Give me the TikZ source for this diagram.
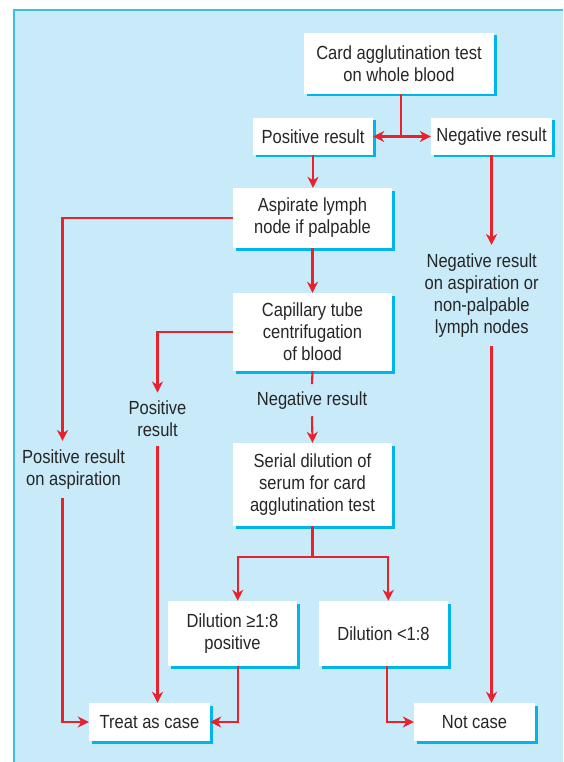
\documentclass[tikz,border=0pt]{standalone}
\usepackage{fontspec}
\setmainfont{Liberation Sans}[FakeStretch=0.87]
\usetikzlibrary{arrows.meta,shadows}
\definecolor{panel}{HTML}{C8EAF9}
\definecolor{frame}{HTML}{3BBCEC}
\definecolor{shade}{HTML}{00B4EC}
\definecolor{arr}{HTML}{E8212B}
\definecolor{ink}{HTML}{262626}
\begin{document}
\begin{tikzpicture}[x=1pt,y=-1pt,
  txt/.style={text=ink, align=center, font=\fontsize{19}{22}\selectfont},
  box/.style={txt, fill=white, inner sep=0pt,
    general shadow={fill=shade, shadow xshift=2.5pt, shadow yshift=-2.5pt}},
  lbl/.style={txt, inner xsep=0pt, inner ysep=8.5pt},
  link/.style={draw=arr, line width=2.1pt},
  tip/.style={link, -{Stealth[length=11pt,width=11pt,inset=3.5pt]}}
]
\useasboundingbox (0,0) rectangle (563,762);
\fill[panel] (14,10) rectangle (563,762);
\draw[frame, line width=1.5pt] (14.2,762) -- (14.2,10.2) -- (563,10.2);

% boxes
\node[box, minimum width=190pt, minimum height=61pt] (card) at (399,63.5) {Card agglutination test\\on whole blood};
\node[box, minimum width=120pt, minimum height=37pt] (pos) at (313,136.5) {Positive result};
\node[box, minimum width=121pt, minimum height=37pt] (neg) at (491.5,136.5) {Negative result};
\node[box, minimum width=159pt, minimum height=60pt] (asp) at (312.5,218) {Aspirate lymph\\node if palpable};
\node[box, minimum width=159pt, minimum height=78pt] (cap) at (312.5,332) {Capillary tube\\centrifugation\\of blood};
\node[box, minimum width=159pt, minimum height=83pt] (ser) at (312.5,484.5) {Serial dilution of\\serum for card\\agglutination test};
\node[box, minimum width=129pt, minimum height=65pt] (dil1) at (232.5,633.5) {Dilution ≥1:8\\positive};
\node[box, minimum width=129pt, minimum height=65pt] (dil2) at (383.5,633.5) {Dilution <1:8};
\node[box, minimum width=121pt, minimum height=38pt] (treat) at (149.5,722) {Treat as case};
\node[box, minimum width=121pt, minimum height=38pt] (notcase) at (474.5,722) {Not case};

% free labels
\node[lbl] (posasp) at (73.5,469.5) {Positive result\\on aspiration};
\node[lbl] (posres) at (157.5,419.2) {Positive\\result};
\node[lbl, inner ysep=7pt] (negres) at (312,400.2) {Negative result};
\node[lbl] (negasp) at (481.7,295.5) {Negative result\\on aspiration or\\non-palpable\\lymph nodes};

% helper coordinates
\coordinate (split) at (400.7,136.5);
\coordinate (la) at (62.5,0);
\coordinate (j) at (312.5,557.3);
\coordinate (jl) at (237.7,557.3);
\coordinate (jr) at (388.3,557.3);
\coordinate (jr2) at (386.7,557.3);

% connectors
\draw[link] (split |- card.south) -- (split);
\draw[tip] (split) -- (pos.east);
\draw[tip] (split) -- (neg.west);
\draw[tip] (pos.south) -- (pos.south |- asp.north);
\draw[tip] (asp.south) -- (cap.north);
\draw[tip] (asp.west) -| (la |- posasp.north);
\draw[tip] (la |- posasp.south) |- (treat.west);
\draw[tip] (cap.west) -| (posres.north);
\draw[tip] (posres.south) -- (posres.south |- treat.north);
\draw[link] (cap.south) -- (negres.north);
\draw[tip] (negres.south) -- (ser.north);
\draw[link] (ser.south) -- (j);
\draw[tip] (j) -- (jl) -- (jl |- dil1.north);
\draw[tip] (j) -- (jr) -- (jr |- dil2.north);
\draw[tip] (jl |- dil1.south) |- (treat.east);
\draw[tip] (jr2 |- dil2.south) |- (notcase.west);
\draw[tip] (neg.south) -- (neg.south |- negasp.north);
\draw[tip] (neg.south |- negasp.south) -- (neg.south |- notcase.north);
\end{tikzpicture}
\end{document}
